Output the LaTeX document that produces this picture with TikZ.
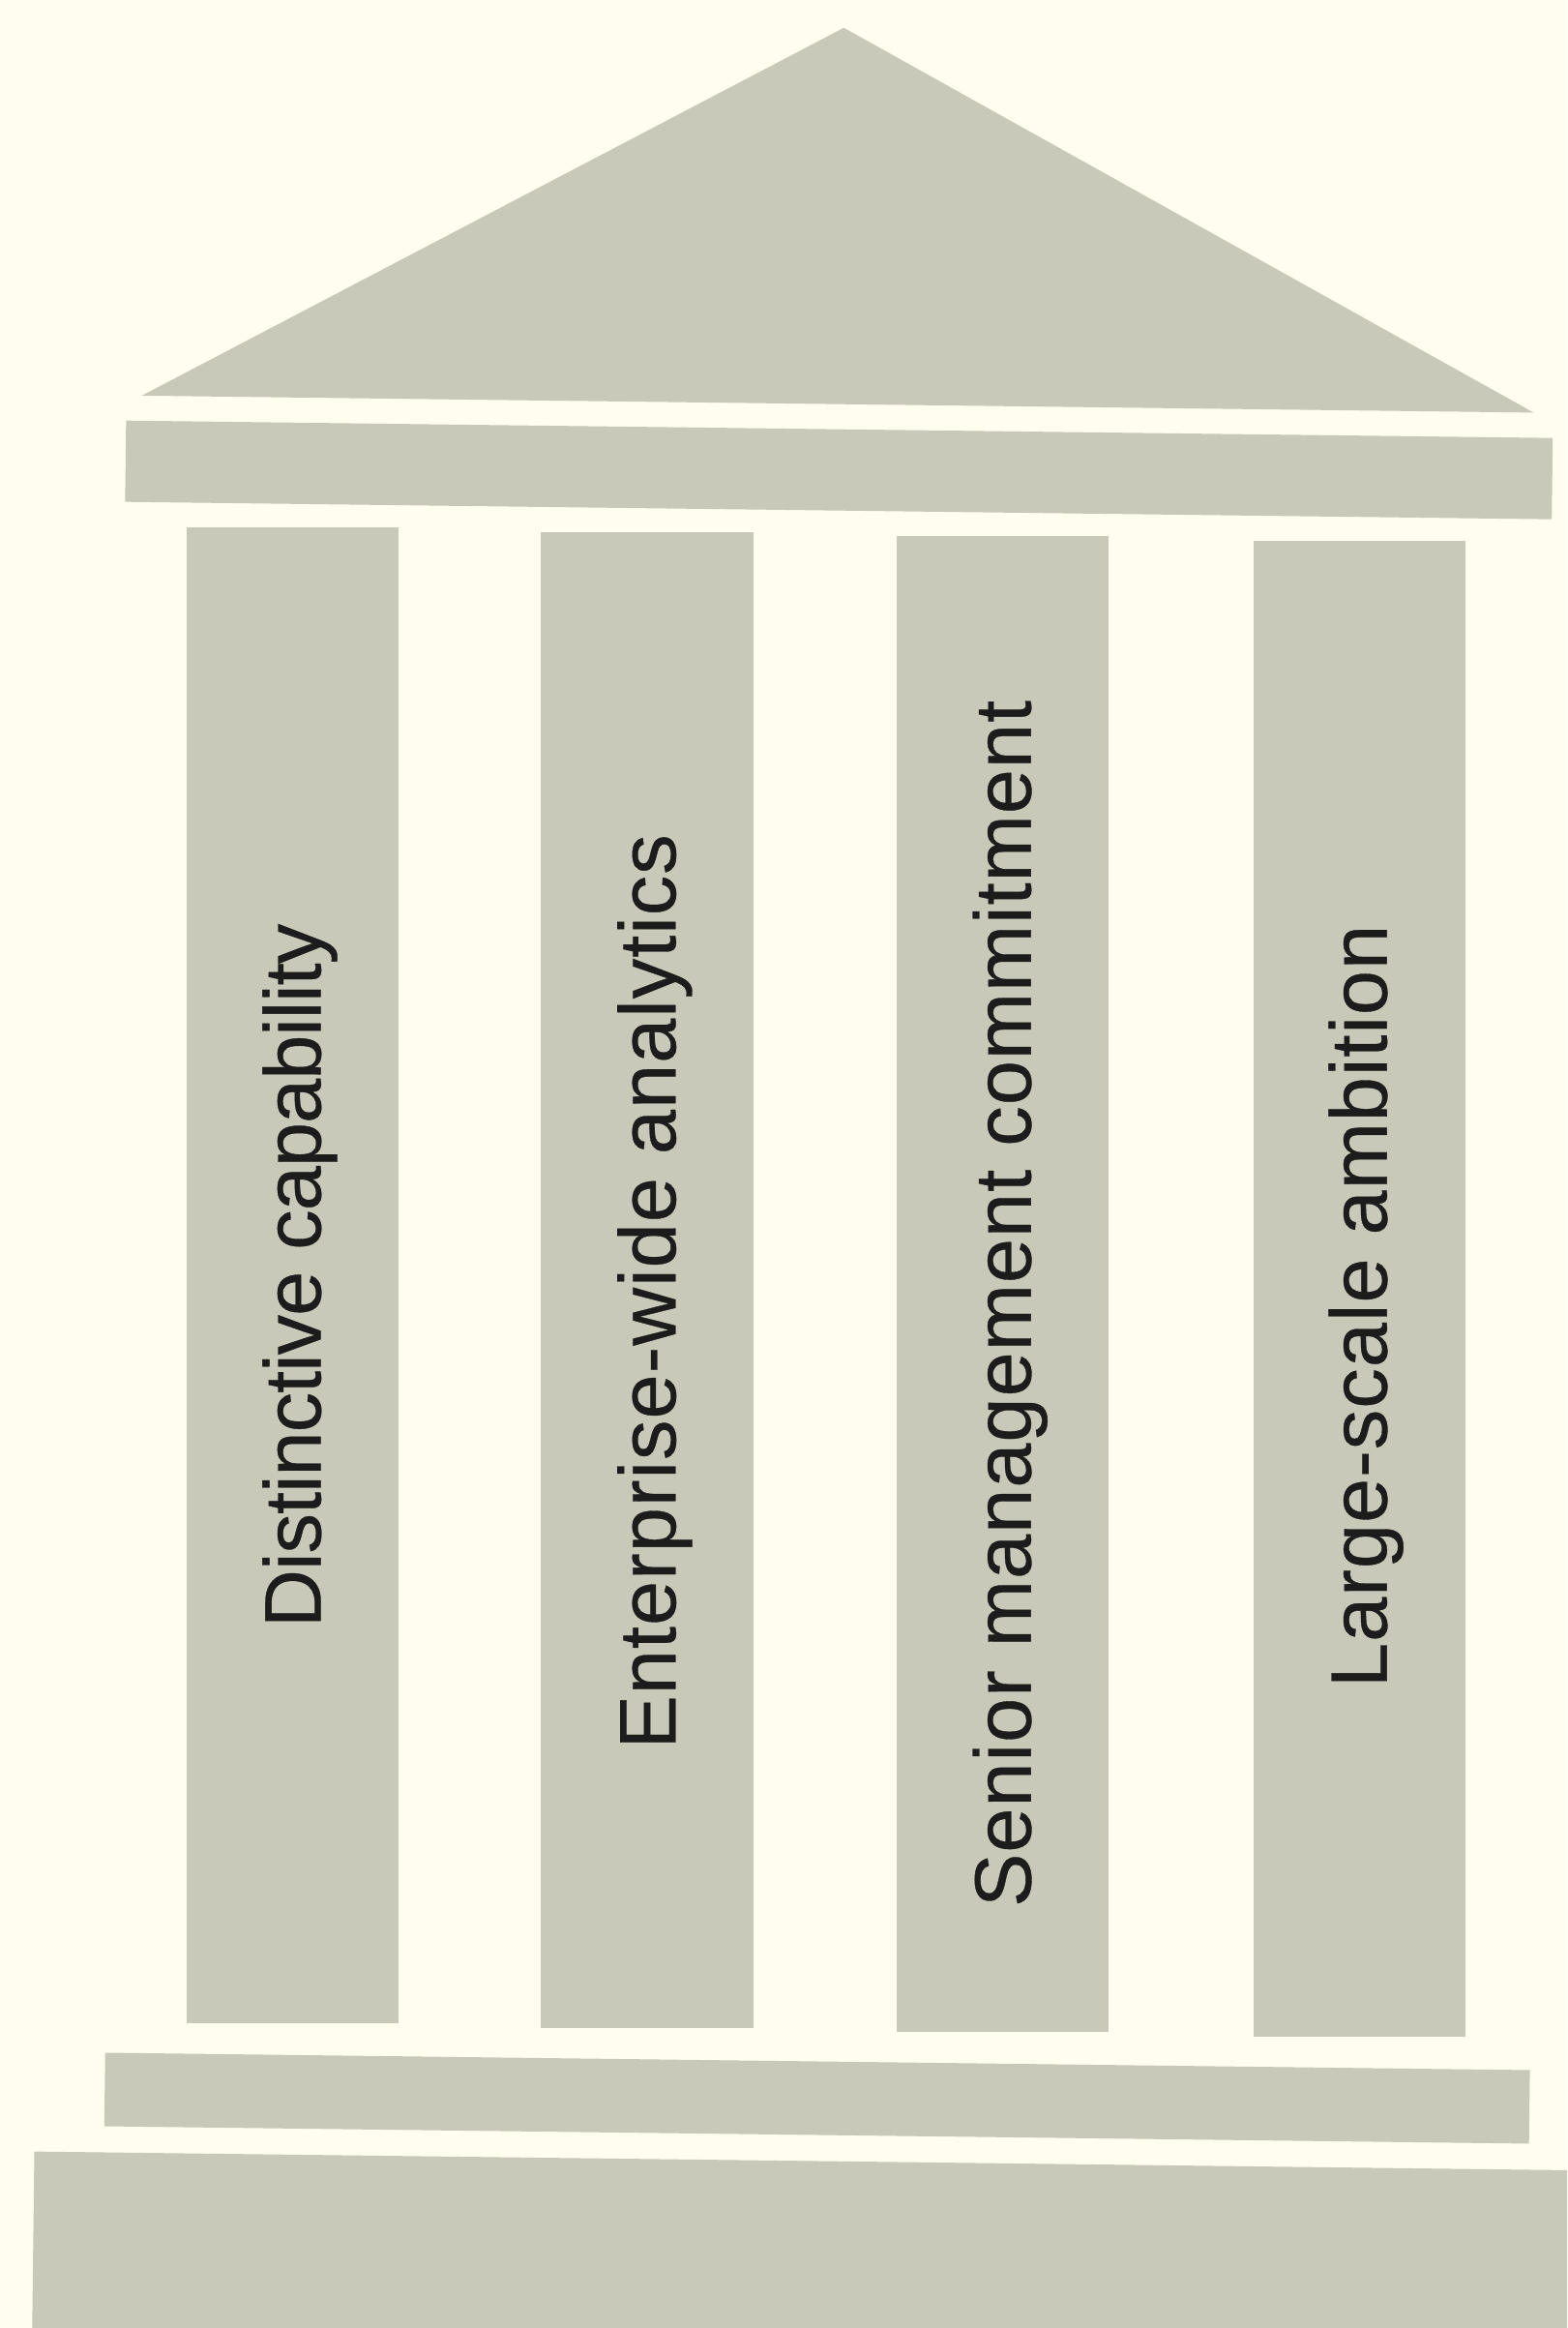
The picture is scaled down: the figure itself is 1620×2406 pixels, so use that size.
\documentclass[tikz,border=0pt]{standalone}
\usepackage{fontspec}
\setmainfont{Liberation Sans}
\definecolor{paper}{RGB}{254,253,240}
\definecolor{stone}{RGB}{201,201,185}
\definecolor{ink}{RGB}{28,28,28}
\begin{document}
\begin{tikzpicture}[x=0.01cm,y=-0.01cm,
  block/.style={fill=stone,draw=none},
  pillar/.style={fill=stone,draw=none,shape=rectangle,
    minimum width=2.19cm,minimum height=15.45cm,inner sep=0pt},
  lbl/.style={rotate=90,inner sep=0pt,text=ink,
    font=\fontsize{23.6}{28}\selectfont\addfontfeature{LetterSpace=1.2,FakeBold=0.4}},
  tightlbl/.style={rotate=90,inner sep=0pt,text=ink,
    font=\fontsize{23.6}{28}\selectfont\addfontfeature{LetterSpace=-1.2,FakeBold=0.4}}]
\useasboundingbox (0,0) rectangle (1620,2406);
\clip (0,0) rectangle (1620,2406);
\fill[paper] (0,0) rectangle (1620,2406);
\begin{scope}[rotate around={-0.7:(810,1203)}]
  % roof
  \fill[block] (858,28) -- (1576,417) -- (137,417) -- cycle;
  % beam
  \fill[block] (121,443) rectangle (1596,527);
  % pillars
  \node[pillar] (p1) at (303.5,1324.5) {};
  \node[pillar] (p2) at (670.5,1324.5) {};
  \node[pillar] (p3) at (1038,1324.5) {};
  \node[pillar] (p4) at (1407,1324.5) {};
  \node[tightlbl] (t1) at ([shift={(8,0)}]p1.center) {Distinctive capability};
  \node[lbl] (t2) at ([shift={(8,12)}]p2.center) {Enterprise-wide analytics};
  \node[lbl] (t3) at ([shift={(8,20)}]p3.center) {Senior management commitment};
  \node[lbl] (t4) at ([shift={(7,18)}]p4.center) {Large-scale ambition};
  % plinth
  \fill[block] (120,2130) rectangle (1593,2206);
  % base
  \fill[block] (48,2233) rectangle (1750,2550);
\end{scope}
\end{tikzpicture}
\end{document}
